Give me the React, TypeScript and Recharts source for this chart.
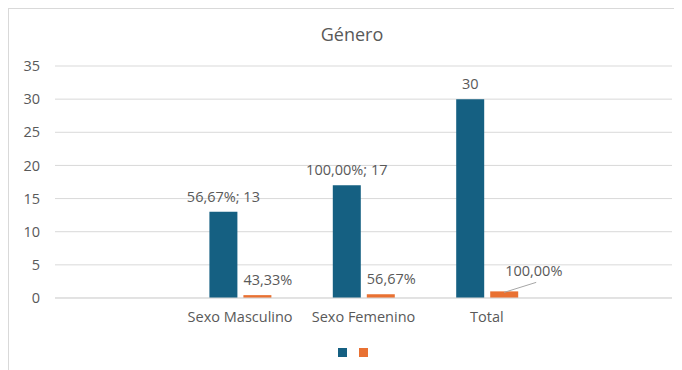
import { BarChart, Bar, XAxis, YAxis, CartesianGrid, Legend, LabelList } from "recharts"

const categories = ["", "Sexo Masculino", "Sexo Femenino", "Total", ""]
const countValues = [null, 13, 17, 30, null]
const shareValues = [null, 0.4333, 0.5667, 1.0, null]
const countLabels = ["", "56,67%; 13", "100,00%; 17", "30", ""]
const shareLabels = ["", "43,33%", "56,67%", "100,00%", ""]
const yTicks = [0, 5, 10, 15, 20, 25, 30, 35]

const data = categories.map((category, i) => ({
  category,
  count: countValues[i],
  share: shareValues[i],
  countLabel: countLabels[i],
  shareLabel: shareLabels[i],
}))

const BLUE = "#156082"
const ORANGE = "#E97132"
const TEXT = "#595959"
const GRID = "#d9d9d9"
const FS = 14.5

// the Total orange label is pushed out by Excel, with a leader line
const LEADER_LABEL = shareLabels[3]

function CountLabel(props: any) {
  const { x, y, width, value } = props
  if (!value) return null
  return (
    <text x={x + width / 2} y={y - 10} textAnchor="middle" fill={TEXT} fontSize={FS}>
      {value}
    </text>
  )
}

function ShareLabel(props: any) {
  const { x, y, width, value } = props
  if (!value) return null
  if (value === LEADER_LABEL) {
    return (
      <g>
        <line x1={x + width / 2} y1={y + 1} x2={x + 46} y2={y - 9} stroke="#a6a6a6" strokeWidth={1} />
        <text x={x + 15} y={y - 15} textAnchor="start" fill={TEXT} fontSize={FS}>
          {value}
        </text>
      </g>
    )
  }
  return (
    <text x={x} y={y - 10} textAnchor="start" fill={TEXT} fontSize={FS}>
      {value}
    </text>
  )
}

function LegendSquares(props: any) {
  const items = props.payload || []
  return (
    <div style={{ height: 36, display: "flex", paddingLeft: 329, paddingTop: 20, gap: 12, boxSizing: "border-box" }}>
      {items.map((it: any, i: number) => (
        <div key={i} style={{ width: 9, height: 9, background: it.color }} />
      ))}
    </div>
  )
}

export default function App() {
  return (
    <div
      style={{
        position: "relative",
        width: 673,
        height: 361,
        borderLeft: `1px solid ${GRID}`,
        borderTop: `1px solid ${GRID}`,
        fontFamily: "'Open Sans', sans-serif",
        color: TEXT,
      }}
    >
      <div style={{ position: "absolute", top: 13, left: 243, width: 200, textAlign: "center", fontSize: 18 }}>
        Género
      </div>
      <BarChart width={673} height={361} data={data} margin={{ top: 57, right: 10, left: 0, bottom: 6 }} barSize={28} barGap={6}>
        <CartesianGrid vertical={false} stroke={GRID} />
        <XAxis
          dataKey="category"
          stroke={GRID}
          tickLine={false}
          tickSize={0}
          tickMargin={14}
          height={30}
          tick={{ fill: TEXT, fontSize: FS }}
          interval={0}
        />
        <YAxis
          domain={[0, 35]}
          ticks={yTicks}
          width={46}
          axisLine={false}
          tickLine={false}
          tickSize={0}
          tickMargin={15}
          tick={{ fill: TEXT, fontSize: FS }}
        />
        <Legend verticalAlign="bottom" height={36} content={LegendSquares} />
        <Bar dataKey="count" name=" " fill={BLUE} isAnimationActive={false}>
          <LabelList dataKey="countLabel" content={CountLabel} />
        </Bar>
        <Bar dataKey="share" name="  " fill={ORANGE} isAnimationActive={false}>
          <LabelList dataKey="shareLabel" content={ShareLabel} />
        </Bar>
      </BarChart>
    </div>
  )
}
